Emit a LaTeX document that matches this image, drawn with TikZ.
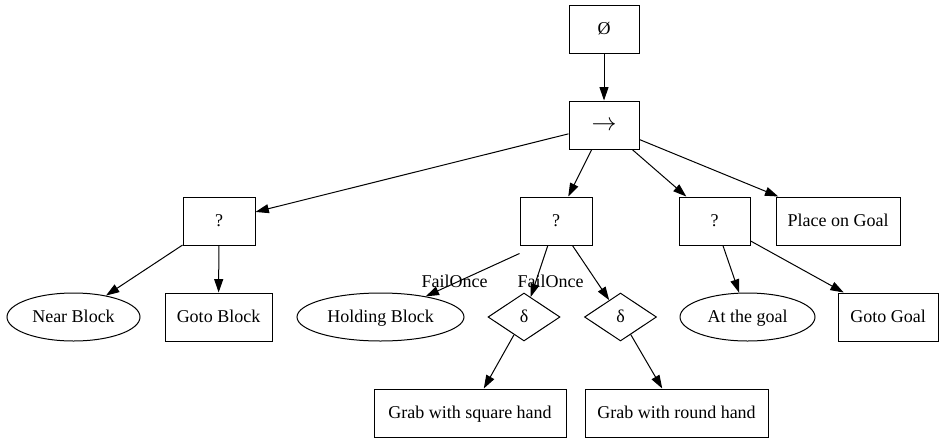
\documentclass[tikz,border=0pt]{standalone}
\usepackage{fontspec}
\setmainfont{Liberation Serif}
\usetikzlibrary{shapes.geometric,arrows.meta}
\begin{document}
\begin{tikzpicture}[x=0.75pt,y=-0.75pt,
  every node/.style={font=\fontsize{13.5}{16}\selectfont, inner sep=0pt, line width=0.75pt, text height=10.5pt, text depth=2.5pt},
  boxnode/.style={draw, rectangle, minimum height=36pt},
  ellnode/.style={draw, ellipse, minimum height=36pt},
  dianode/.style={draw, diamond, minimum width=54pt, minimum height=36pt},
  lbl/.style={draw=none},
  arr/.style={line width=0.75pt, -{Triangle[length=10pt,width=6.7pt]}}
]
\useasboundingbox (0,0) rectangle (942,443);
% level 0/1
\node[boxnode, minimum width=52.5pt] (root) at (604,29.5) {Ø};
\node[boxnode, minimum width=52.5pt, text height=8pt, text depth=0pt] (seq) at (604,125) {\scalebox{1.3}{$\rightarrow$}};
% level 2
\node[boxnode, minimum width=54pt] (sel1) at (219,221) {?};
\node[boxnode, minimum width=54pt] (sel2) at (556,221) {?};
\node[boxnode, minimum width=53.25pt] (sel3) at (714.5,221) {?};
\node[boxnode, minimum width=93pt] (place) at (838,221) {Place on Goal};
% level 3
\node[ellnode, minimum width=99.75pt] (near) at (73.5,317) {Near Block};
\node[boxnode, minimum width=80.25pt] (gotob) at (218.5,317) {Goto Block};
\node[ellnode, minimum width=125.25pt] (hold) at (380.5,317) {Holding Block};
\node[dianode] (d1) at (524,317) {δ};
\node[dianode] (d2) at (620.5,317) {δ};
\node[ellnode, minimum width=101.25pt] (atgoal) at (747.5,317) {At the goal};
\node[boxnode, minimum width=75pt] (gotog) at (888,317) {Goto Goal};
% level 4
\node[boxnode, minimum width=144pt] (grabs) at (470,413) {Grab with square hand};
\node[boxnode, minimum width=137.25pt] (grabr) at (676.5,413) {Grab with round hand};
% edge labels
\node[lbl] (fo1) at (454.5,282) {FailOnce};
\node[lbl] (fo2) at (550.5,282) {FailOnce};
% edges
\draw[arr] (root) -- (seq);
\draw[arr] (seq) -- (sel1);
\draw[arr] (seq) -- (sel2);
\draw[arr] (seq) -- (sel3);
\draw[arr] (seq) -- (place);
\draw[arr] (sel1) -- (near);
\draw[arr] (sel1) -- (gotob);
\draw[arr] (sel2.south west) ++(0,-6pt) coordinate (s2a) -- (hold);
\draw[arr] (sel2) -- (d1);
\draw[arr] (sel2) -- (d2);
\draw[arr] (sel3) -- (atgoal);
\draw[arr] (sel3) -- (gotog);
\draw[arr] (d1) -- (grabs);
\draw[arr] (d2) -- (grabr);
\end{tikzpicture}
\end{document}
